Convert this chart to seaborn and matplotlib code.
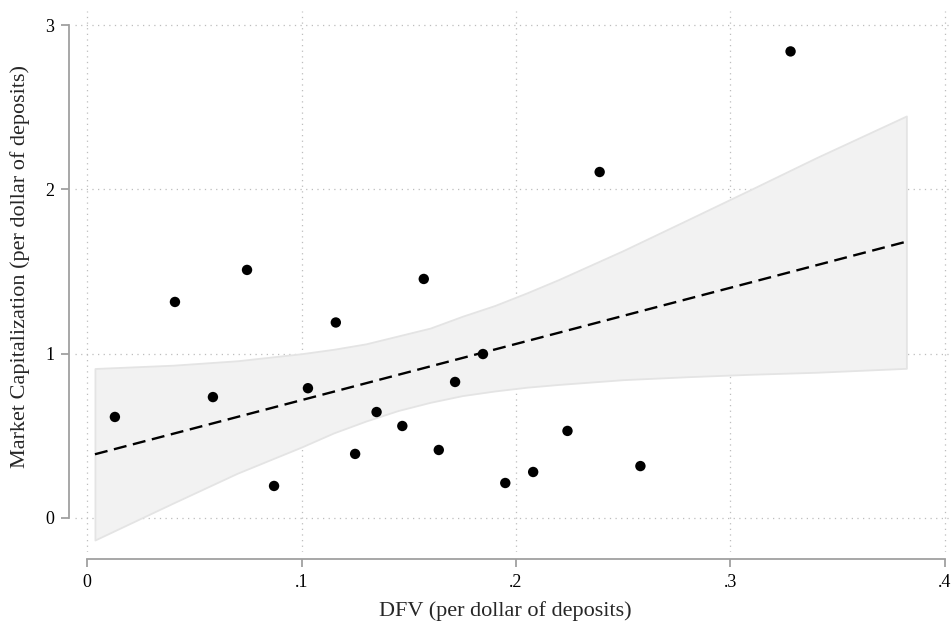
import numpy as np
import pandas as pd
import matplotlib
matplotlib.use("Agg")
import matplotlib.pyplot as plt
import seaborn as sns

# Scatter data
dfv = [0.013, 0.041, 0.0587, 0.0746, 0.0872, 0.103, 0.116, 0.125, 0.135, 0.147,
       0.157, 0.164, 0.1716, 0.1846, 0.195, 0.208, 0.224, 0.239, 0.258, 0.328]
mktcap = [0.615, 1.315, 0.736, 1.51, 0.195, 0.79, 1.19, 0.39, 0.645, 0.56,
          1.455, 0.414, 0.828, 0.998, 0.213, 0.28, 0.53, 2.106, 0.316, 2.84]

# Fitted line and its 95% confidence band
fit_x = [0.0037, 0.382]
fit_y = [0.388, 1.682]
ci_x = [0.0037, 0.04, 0.07, 0.10, 0.115, 0.13, 0.145, 0.16, 0.175, 0.19, 0.205,
        0.22, 0.25, 0.28, 0.31, 0.34, 0.382]
ci_hi = [0.91, 0.93, 0.957, 1.0, 1.027, 1.06, 1.108, 1.156, 1.228, 1.293, 1.37,
         1.452, 1.628, 1.815, 2.003, 2.193, 2.447]
ci_lo = [-0.134, 0.09, 0.272, 0.432, 0.518, 0.59, 0.654, 0.704, 0.745, 0.773, 0.796,
         0.813, 0.842, 0.86, 0.875, 0.887, 0.911]

x_ticks = [0, 0.1, 0.2, 0.3, 0.4]
x_ticklabels = ["0", ".1", ".2", ".3", ".4"]
y_ticks = [0, 1, 2, 3]
y_ticklabels = ["0", "1", "2", "3"]

sns.set_theme(style="white")
plt.rcParams["font.family"] = ["Liberation Serif", "DejaVu Serif"]

df = pd.DataFrame({"x": dfv, "y": mktcap})
fit = pd.DataFrame({"x": fit_x, "y": fit_y})
band = pd.DataFrame({"x": ci_x, "lo": ci_lo, "hi": ci_hi})

fig = plt.figure(figsize=(9.51, 6.24), dpi=100)
ax = fig.add_axes([75 / 951, 72 / 624, 876 / 951, 541 / 624])

ax.fill_between(band["x"], band["lo"], band["hi"], facecolor="#f2f2f2",
                edgecolor="#e4e4e4", linewidth=1.3, zorder=1)
sns.lineplot(data=fit, x="x", y="y", ax=ax, color="black", linewidth=1.7,
             linestyle=(0, (5.5, 2.8)), zorder=3)
sns.scatterplot(data=df, x="x", y="y", ax=ax, color="black", s=56,
                edgecolor="none", zorder=4)

ax.set_xlim(-0.0056, 0.4028)
ax.set_ylim(-0.207, 3.086)
ax.set_xticks(x_ticks)
ax.set_xticklabels(x_ticklabels)
ax.set_yticks(y_ticks)
ax.set_yticklabels(y_ticklabels)

ax.grid(True, linestyle=(0, (1, 3.5)), color="#bdbdbd", linewidth=0.9, zorder=0)
ax.set_axisbelow(True)

for side in ["top", "right"]:
    ax.spines[side].set_visible(False)
ax.spines["left"].set_position(("outward", 4))
ax.spines["bottom"].set_position(("outward", 5))
ax.spines["left"].set_bounds(0, 3)
ax.spines["bottom"].set_bounds(0, 0.4)
for side in ["left", "bottom"]:
    ax.spines[side].set_color("#a0a0a0")
    ax.spines[side].set_linewidth(1.3)
ax.tick_params(axis="both", which="major", direction="out", length=6, width=1.3,
               color="#a0a0a0", labelsize=13, labelcolor="black", pad=5,
               left=True, bottom=True)

ax.set_xlabel("DFV (per dollar of deposits)", fontsize=16)
ax.set_ylabel("Market Capitalization (per dollar of deposits)", fontsize=16)
ax.xaxis.set_label_coords(0.491, -0.09)
ax.yaxis.set_label_coords(-0.051, 0.527)

fig.savefig("out.png", dpi=100)
